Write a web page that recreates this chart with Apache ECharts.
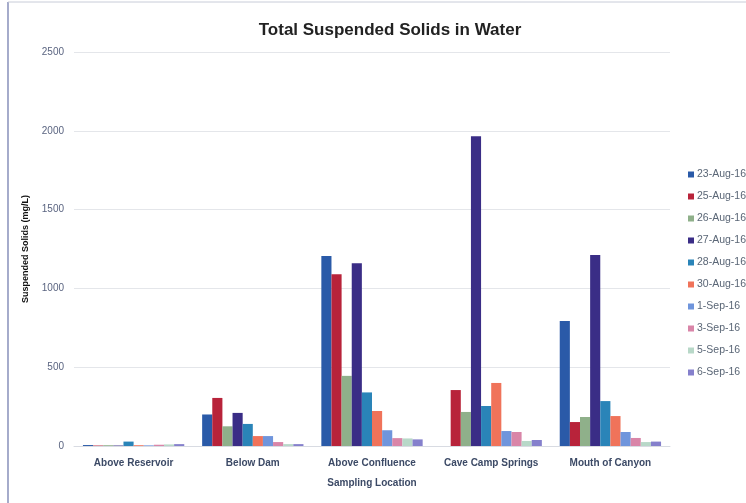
<!DOCTYPE html>
<html>
<head>
<meta charset="utf-8">
<title>Total Suspended Solids in Water</title>
<script src="https://cdn.jsdelivr.net/npm/echarts@6/dist/echarts.min.js"></script>
<style>
  html, body { margin: 0; padding: 0; background: #fff; }
  #tss { width: 746px; height: 503px; }
</style>
</head>
<body>
<div id="tss"></div>
<script>
// sampling locations
var locations = ['Above Reservoir', 'Below Dam', 'Above Confluence', 'Cave Camp Springs', 'Mouth of Canyon'];
var dates = ['23-Aug-16', '25-Aug-16', '26-Aug-16', '27-Aug-16', '28-Aug-16',
             '30-Aug-16', '1-Sep-16', '3-Sep-16', '5-Sep-16', '6-Sep-16'];
var yTicks = [0, 500, 1000, 1500, 2000, 2500];

// mg/L per sampling date, one value per location
var aug23 = [6, 200, 1205, null, 793];
var aug25 = [3, 305, 1090, 355, 152];
var aug26 = [5, 125, 445, 216, 184];
var aug27 = [3, 210, 1160, 1965, 1212];
var aug28 = [28, 140, 340, 254, 285];
var aug30 = [5, 63, 222, 400, 190];
var sep01 = [4, 63, 100, 95, 89];
var sep03 = [8, 25, 50, 89, 51];
var sep05 = [10, 12, 48, 32, 25];
var sep06 = [12, 12, 42, 38, 28];

var colors = ['#2a5aa8', '#b8233a', '#8fb08a', '#3a2d86', '#2a84b8',
              '#f0735a', '#6f95dc', '#d985a8', '#b8d8c8', '#8580cc'];

var values = [aug23, aug25, aug26, aug27, aug28, aug30, sep01, sep03, sep05, sep06];

var series = [];
for (var i = 0; i < dates.length; i++) {
    series.push({
        name: dates[i],
        type: 'bar',
        data: values[i],
        barGap: '0%',
        barCategoryGap: '15%',
        itemStyle: { color: colors[i] }
    });
}

var chart = echarts.init(document.getElementById('tss'));
var option = {
    animation: false,
    color: colors,
    title: {
        text: 'Total Suspended Solids in Water',
        left: 385,
        textAlign: 'center',
        top: 17,
        textStyle: {
            fontFamily: 'Liberation Sans',
            fontWeight: 'bold',
            fontSize: 17,
            color: '#222'
        }
    },
    legend: {
        orient: 'vertical',
        left: 683,
        top: 163,
        itemWidth: 6,
        itemHeight: 6,
        itemGap: 9,
        icon: 'rect',
        data: dates,
        textStyle: {
            fontFamily: 'Liberation Sans',
            fontSize: 10.5,
            lineHeight: 13,
            color: '#5a6676',
            padding: [0, 0, 0, -2]
        }
    },
    grid: {
        left: 74,
        right: 76,
        top: 52,
        bottom: 57
    },
    xAxis: {
        type: 'category',
        data: locations,
        name: 'Sampling Location',
        nameLocation: 'middle',
        nameGap: 32,
        nameTextStyle: {
            fontFamily: 'Liberation Sans',
            fontWeight: 'bold',
            fontSize: 10,
            color: '#3c4a66'
        },
        axisLine: { lineStyle: { color: '#d8dbe2' } },
        axisTick: { show: false },
        axisLabel: {
            interval: 0,
            fontFamily: 'Liberation Sans',
            fontWeight: 'bold',
            fontSize: 10,
            color: '#3c4a66',
            margin: 12
        }
    },
    yAxis: {
        type: 'value',
        min: yTicks[0],
        max: yTicks[yTicks.length - 1],
        interval: 500,
        name: 'Suspended Solids (mg/L)',
        nameLocation: 'middle',
        nameGap: 44,
        nameTextStyle: {
            fontFamily: 'Liberation Sans',
            fontWeight: 'bold',
            fontSize: 9,
            color: '#111'
        },
        axisLine: { show: false },
        axisTick: { show: false },
        axisLabel: {
            fontFamily: 'Liberation Sans',
            fontSize: 10,
            color: '#5a6480',
            margin: 10,
            formatter: function (v) { return String(v); }
        },
        splitLine: { lineStyle: { color: '#e4e6ea' } }
    },
    graphic: [
        {
            type: 'line',
            shape: { x1: 8, y1: 2, x2: 8, y2: 503 },
            style: { stroke: '#6a74a8', lineWidth: 1.2 }
        },
        {
            type: 'line',
            shape: { x1: 8, y1: 2, x2: 746, y2: 2 },
            style: { stroke: '#c8ccd8', lineWidth: 1 }
        }
    ],
    series: series
};
chart.setOption(option);
</script>
</body>
</html>
